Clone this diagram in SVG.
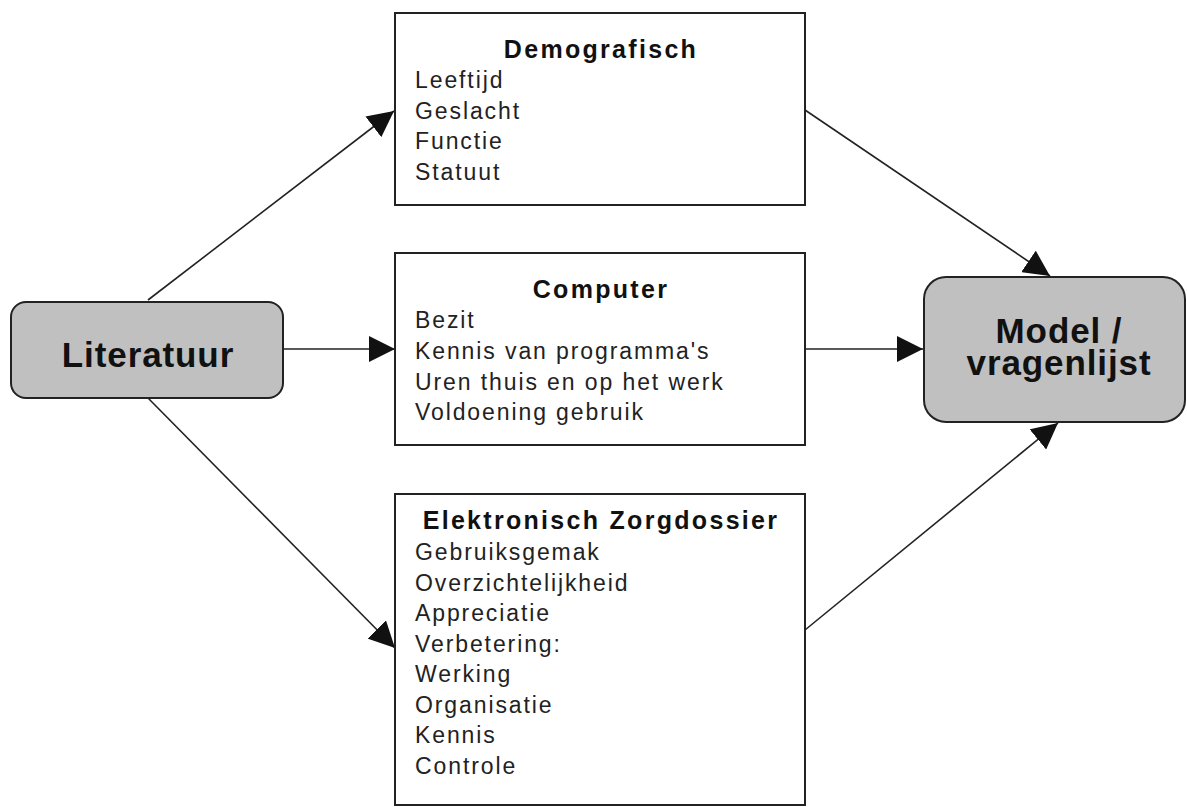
<svg xmlns="http://www.w3.org/2000/svg" width="1187" height="807" viewBox="0 0 1187 807">
<defs>
<marker id="arr" markerUnits="userSpaceOnUse" markerWidth="26" markerHeight="26" refX="26" refY="13" orient="auto" viewBox="0 0 26 26">
<path d="M0,0 L26,13 L0,26 z" fill="#111"/>
</marker>
</defs>
<style>
.box{fill:#fff;stroke:#222;stroke-width:2}
.rbox{fill:#c0c0c0;stroke:#222;stroke-width:2}
.title{font-family:"Liberation Sans",Arial,sans-serif;font-weight:bold;font-size:25px;letter-spacing:2.3px;fill:#111;text-anchor:middle}
.item{font-family:"Liberation Sans",Arial,sans-serif;font-size:23px;letter-spacing:1.9px;fill:#222}
.big{font-family:"Liberation Sans",Arial,sans-serif;font-weight:bold;font-size:35px;letter-spacing:0.9px;fill:#111;text-anchor:middle}
.conn{stroke:#222;stroke-width:1.6;fill:none;marker-end:url(#arr)}
</style>
<rect width="1187" height="807" fill="#fff"/>
<g id="connectors">
<line class="conn" x1="148" y1="300" x2="394" y2="111"/>
<line class="conn" x1="283" y1="349" x2="395" y2="349"/>
<line class="conn" x1="148" y1="398" x2="395" y2="648"/>
<line class="conn" x1="805" y1="110" x2="1050" y2="276"/>
<line class="conn" x1="805" y1="349" x2="923" y2="349"/>
<line class="conn" x1="805" y1="630" x2="1058" y2="423"/>
</g>
<g id="literatuur">
<rect class="rbox" x="11" y="302" width="272" height="96" rx="15" ry="15"/>
<text class="big" x="148" y="367">Literatuur</text>
</g>
<g id="model">
<rect class="rbox" x="924" y="277" width="261" height="145" rx="22" ry="22"/>
<text class="big" x="1059" y="343">Model /</text>
<text class="big" x="1059" y="375">vragenlijst</text>
</g>
<g id="demografisch">
<rect class="box" x="395" y="13" width="410" height="192"/>
<text class="title" x="601" y="58">Demografisch</text>
<text class="item" x="415" y="88">Leeftijd</text>
<text class="item" x="415" y="118.5">Geslacht</text>
<text class="item" x="415" y="149">Functie</text>
<text class="item" x="415" y="179.5">Statuut</text>
</g>
<g id="computer">
<rect class="box" x="395" y="253" width="410" height="192"/>
<text class="title" x="601" y="298">Computer</text>
<text class="item" x="415" y="328">Bezit</text>
<text class="item" x="415" y="359">Kennis van programma's</text>
<text class="item" x="415" y="389.5">Uren thuis en op het werk</text>
<text class="item" x="415" y="420">Voldoening gebruik</text>
</g>
<g id="zorgdossier">
<rect class="box" x="395" y="494" width="410" height="311"/>
<text class="title" x="601" y="529">Elektronisch Zorgdossier</text>
<text class="item" x="415" y="560">Gebruiksgemak</text>
<text class="item" x="415" y="590.5">Overzichtelijkheid</text>
<text class="item" x="415" y="621">Appreciatie</text>
<text class="item" x="415" y="651.5">Verbetering:</text>
<text class="item" x="415" y="682">Werking</text>
<text class="item" x="415" y="712.5">Organisatie</text>
<text class="item" x="415" y="743">Kennis</text>
<text class="item" x="415" y="773.5">Controle</text>
</g>
</svg>
